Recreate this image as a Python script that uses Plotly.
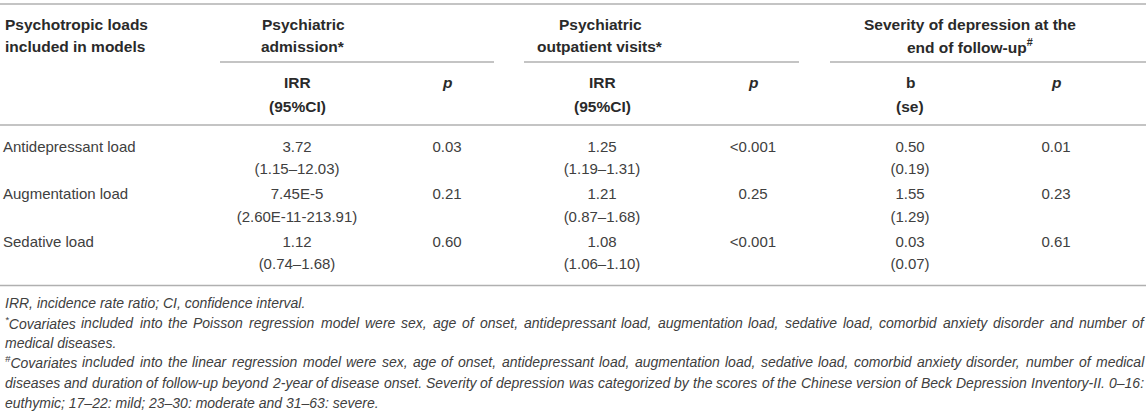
import plotly.graph_objects as go

# ---------------- data ----------------
loads = ["Antidepressant load", "Augmentation load", "Sedative load"]
adm_irr = ["3.72", "7.45E-5", "1.12"]
adm_ci = ["(1.15–12.03)", "(2.60E-11-213.91)", "(0.74–1.68)"]
adm_p = ["0.03", "0.21", "0.60"]
out_irr = ["1.25", "1.21", "1.08"]
out_ci = ["(1.19–1.31)", "(0.87–1.68)", "(1.06–1.10)"]
out_p = ["<0.001", "0.25", "<0.001"]
sev_b = ["0.50", "1.55", "0.03"]
sev_se = ["(0.19)", "(1.29)", "(0.07)"]
sev_p = ["0.01", "0.23", "0.61"]

first_header = ["Psychotropic loads", "included in models"]
group_headers = [["Psychiatric", "admission*"],
                 ["Psychiatric", "outpatient visits*"],
                 ["Severity of depression at the", "end of follow-up<sup>#</sup>"]]
sub_headers = [["IRR", "(95%CI)"], ["<i>p</i>"], ["IRR", "(95%CI)"], ["<i>p</i>"], ["b", "(se)"], ["<i>p</i>"]]

foot_lines = [
    ("IRR, incidence rate ratio; CI, confidence interval.", False),
    ("*Covariates included into the Poisson regression model were sex, age of onset, antidepressant load, augmentation load, sedative load, comorbid anxiety disorder and number of", True),
    ("medical diseases.", False),
    ("#Covariates included into the linear regression model were sex, age of onset, antidepressant load, augmentation load, sedative load, comorbid anxiety disorder, number of medical", True),
    ("diseases and duration of follow-up beyond 2-year of disease onset. Severity of depression was categorized by the scores of the Chinese version of Beck Depression Inventory-II. 0–16:", True),
    ("euthymic; 17–22: mild; 23–30: moderate and 31–63: severe.", False),
]

# ---------------- layout constants ----------------
W, H = 1146, 414
FONT = "Liberation Sans, Arial, sans-serif"
TXT = "#404040"
HDR = "#2a2a2a"
RULE = "#b0b0b0"
BODY = 15
HSIZE = 15.5
FOOT = 14

col_x = [297, 447, 602, 753, 910, 1056]
grp_x = [303, 600, 970]
row_y = [148, 195.5, 243]
ci_dy = 22.5
hdr_y = [24, 46]
sub_y = [82.5, 106]

fig = go.Figure()

def text_trace(xs, ys, texts, pos):
    fig.add_trace(go.Scatter(x=xs, y=ys, text=texts, mode="text", textposition=pos,
                             textfont=dict(family=FONT, size=BODY, color=TXT),
                             hoverinfo="skip", showlegend=False, cliponaxis=False))

text_trace([3] * 3, row_y, loads, "middle right")
cols = [(adm_irr, adm_ci), (adm_p, None), (out_irr, out_ci), (out_p, None), (sev_b, sev_se), (sev_p, None)]
for cx, (main, sub) in zip(col_x, cols):
    text_trace([cx] * 3, row_y, main, "middle center")
    if sub is not None:
        text_trace([cx] * 3, [y + ci_dy for y in row_y], sub, "middle center")

ann = []
def add_text(x, y, t, anchor="center", size=BODY, color=TXT):
    ann.append(dict(x=x, y=y, xref="x", yref="y", text=t, showarrow=False,
                    xanchor=anchor, yanchor="middle",
                    font=dict(family=FONT, size=size, color=color)))

for yy, t in zip(hdr_y, first_header):
    add_text(3, yy, "<b>" + t + "</b>", anchor="left", size=HSIZE, color=HDR)
for gx, lines in zip(grp_x, group_headers):
    for yy, t in zip(hdr_y, lines):
        add_text(gx, yy, "<b>" + t + "</b>", size=HSIZE, color=HDR)
for cx, lines in zip(col_x, sub_headers):
    for yy, t in zip(sub_y, lines):
        add_text(cx, yy, "<b>" + t + "</b>", size=HSIZE, color=HDR)

# --- footnotes, justified using Helvetica/Arial advance widths ---
WID = {' ': 278, ',': 278, '.': 278, ';': 278, ':': 278, '-': 333, '–': 556, '*': 389, '#': 556,
       '(': 333, ')': 333, '<': 584}
for c in "0123456789":
    WID[c] = 556
WID.update(dict(zip("ABCDEFGHIJKLMNOPQRSTUVWXYZ",
    [667, 667, 722, 722, 667, 611, 778, 722, 278, 500, 667, 556, 833, 722, 778, 667, 778, 722, 667, 611, 722, 667, 944, 667, 667, 611])))
WID.update(dict(zip("abcdefghijklmnopqrstuvwxyz",
    [556, 556, 500, 556, 556, 278, 556, 556, 222, 222, 500, 222, 833, 556, 556, 556, 556, 333, 500, 278, 556, 500, 722, 500, 500, 500])))

def wwidth(s, size):
    w = 0.0
    for i, c in enumerate(s):
        f = 0.65 if (i == 0 and c in "*#") else 1.0
        w += WID.get(c, 556) * f
    return w * size / 1000.0

def fmt(s):
    if s[0] in "*#":
        return "<i><sup>" + s[0] + "</sup>" + s[1:] + "</i>"
    return "<i>" + s + "</i>"

foot_y = [303, 323, 342.5, 362, 382.5, 403]
x_left, x_right = 3, 1142
for y, (line, just) in zip(foot_y, foot_lines):
    if not just:
        add_text(x_left, y, fmt(line), anchor="left", size=FOOT)
        continue
    words = line.split(" ")
    widths = [wwidth(w, FOOT) for w in words]
    gap = (x_right - x_left - sum(widths)) / (len(words) - 1)
    x = x_left
    for w, ww in zip(words, widths):
        add_text(x, y, fmt(w), anchor="left", size=FOOT)
        x += ww + gap

# rules
shapes = []
def rule(x0, x1, y):
    shapes.append(dict(type="line", xref="x", yref="y", x0=x0, x1=x1, y0=y, y1=y,
                       line=dict(color=RULE, width=1.6)))
rule(0, W, 4)
rule(220, 494, 62)
rule(524, 799, 62)
rule(830, W, 62)
rule(0, W, 125)
rule(0, W, 285.5)

fig.update_layout(
    width=W, height=H, margin=dict(l=0, r=0, t=0, b=0),
    paper_bgcolor="white", plot_bgcolor="white",
    xaxis=dict(range=[0, W], visible=False, fixedrange=True),
    yaxis=dict(range=[H, 0], visible=False, fixedrange=True),
    annotations=ann, shapes=shapes, showlegend=False,
)
fig.write_html("out.html", config={"displayModeBar": False},
               post_script="document.body.style.margin='0';document.body.style.overflow='hidden';")
